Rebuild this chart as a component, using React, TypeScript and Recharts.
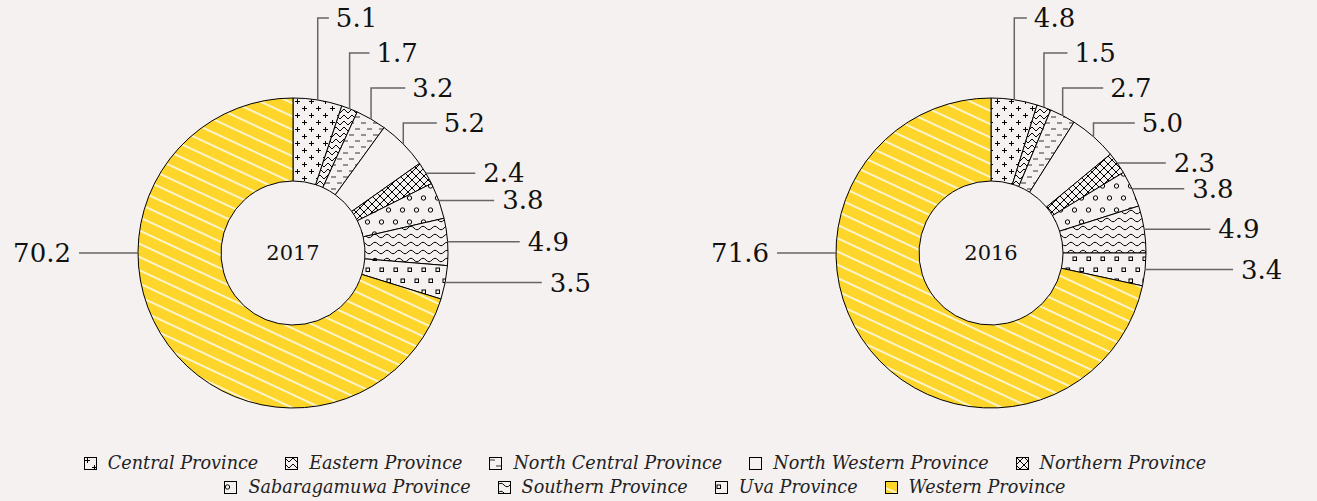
import React from "react";
import { PieChart, Pie, Cell, Legend } from "recharts";

const provinces = [
  "Central Province",
  "Eastern Province",
  "North Central Province",
  "North Western Province",
  "Northern Province",
  "Sabaragamuwa Province",
  "Southern Province",
  "Uva Province",
  "Western Province",
];
const years = ["2017", "2016"];
const share2017 = [5.1, 1.7, 3.2, 5.2, 2.4, 3.8, 4.9, 3.5, 70.2];
const share2016 = [4.8, 1.5, 2.7, 5.0, 2.3, 3.8, 4.9, 3.4, 71.6];

const BG = "#f5f1f0";
const YELLOW = "#fdd52b";
const patternIds = ["pPlus", "pChevron", "pDash", "pBlank", "pHatch", "pCircle", "pWave", "pSquare", "pStripe"];

const data2017 = provinces.map((name, i) => ({ name, value: share2017[i] }));
const data2016 = provinces.map((name, i) => ({ name, value: share2016[i] }));

const serif = "'DejaVu Serif', Georgia, serif";

// leader lines: upper slices get an elbow, the rest a straight line
const renderLabel = (props: any) => {
  const { cx, cy, midAngle, outerRadius, value, index } = props;
  const theta = 90 - midAngle;
  const rad = (theta * Math.PI) / 180;
  const ax = cx + outerRadius * Math.sin(rad);
  const ay = cy - outerRadius * Math.cos(rad);
  const txt = Number(value).toFixed(1);
  if (theta > 180) {
    const x0 = cx - outerRadius;
    return (
      <g key={`l-${index}`}>
        <line x1={x0} y1={cy} x2={x0 - 59} y2={cy} stroke="#666" strokeWidth={1.5} />
        <text x={x0 - 67} y={cy} textAnchor="end" dominantBaseline="central" fontFamily={serif} fontSize={26} fill="#111">
          {txt}
        </text>
      </g>
    );
  }
  const upper = theta < 50;
  const ly = upper ? cy - outerRadius - 80 + index * 35 : ay;
  const dy = ly - cy;
  const tx = cx - 462 + Math.sqrt(805 * 805 - (dy - 392) * (dy - 392));
  const d = upper ? `M${ax},${ay}V${ly}H${tx - 7}` : `M${ax},${ay}H${tx - 8}`;
  return (
    <g key={`l-${index}`}>
      <path d={d} fill="none" stroke="#666" strokeWidth={1.5} />
      <text x={tx} y={ly} textAnchor="start" dominantBaseline="central" fontFamily={serif} fontSize={26} fill="#111">
        {txt}
      </text>
    </g>
  );
};

const Patterns = () => (
  <defs>
    <pattern id="pPlus" width={14} height={14} patternUnits="userSpaceOnUse">
      <rect width={14} height={14} fill={BG} />
      <path d="M3.5 1V6M1 3.5H6M10.5 8V13M8 10.5H13" stroke="#000" strokeWidth={1} />
    </pattern>
    <pattern id="pChevron" width={8} height={6} patternUnits="userSpaceOnUse">
      <rect width={8} height={6} fill={BG} />
      <path d="M0 1L4 5L8 1" fill="none" stroke="#000" strokeWidth={1} />
    </pattern>
    <pattern id="pDash" width={12} height={12} patternUnits="userSpaceOnUse">
      <rect width={12} height={12} fill={BG} />
      <path d="M1 3H6M7 9H12" stroke="#333" strokeWidth={1.2} />
    </pattern>
    <pattern id="pBlank" width={10} height={10} patternUnits="userSpaceOnUse">
      <rect width={10} height={10} fill={BG} />
    </pattern>
    <pattern id="pHatch" width={8} height={8} patternUnits="userSpaceOnUse">
      <rect width={8} height={8} fill={BG} />
      <path d="M0 0L8 8M8 0L0 8" stroke="#000" strokeWidth={1} />
    </pattern>
    <pattern id="pCircle" width={14} height={24} patternUnits="userSpaceOnUse">
      <rect width={14} height={24} fill={BG} />
      <circle cx={3.5} cy={6} r={2.2} fill="none" stroke="#000" strokeWidth={1} />
      <circle cx={10.5} cy={18} r={2.2} fill="none" stroke="#000" strokeWidth={1} />
    </pattern>
    <pattern id="pWave" width={12} height={8} patternUnits="userSpaceOnUse">
      <rect width={12} height={8} fill={BG} />
      <path d="M0 4Q3 0.5 6 4T12 4" fill="none" stroke="#000" strokeWidth={1} />
    </pattern>
    <pattern id="pSquare" width={14} height={22} patternUnits="userSpaceOnUse">
      <rect width={14} height={22} fill={BG} />
      <rect x={2} y={4} width={3.5} height={3.5} fill="none" stroke="#000" strokeWidth={1} />
      <rect x={9} y={15} width={3.5} height={3.5} fill="none" stroke="#000" strokeWidth={1} />
    </pattern>
    <pattern id="pStripe" width={12} height={12} patternUnits="userSpaceOnUse" patternTransform="rotate(25)">
      <rect width={12} height={12} fill={YELLOW} />
      <path d="M0 6H12" stroke="#fff" strokeWidth={1.5} />
    </pattern>
  </defs>
);

const LegendContent = () => {
  const rows = [provinces.slice(0, 5), provinces.slice(5)];
  return (
    <div style={{ width: 1290, fontFamily: serif, fontStyle: "italic", fontSize: 17.6, color: "#222" }}>
      {rows.map((row, r) => (
        <div key={r} style={{ display: "flex", justifyContent: "center", gap: 27, height: 24, alignItems: "center" }}>
          {row.map((name) => {
            const i = provinces.indexOf(name);
            return (
              <div key={name} style={{ display: "flex", alignItems: "center", gap: 11 }}>
                <svg width={13} height={13}>
                  <rect x={0.5} y={0.5} width={12} height={12} fill={`url(#${patternIds[i]})`} stroke="#000" strokeWidth={1} />
                </svg>
                <span>{name}</span>
              </div>
            );
          })}
        </div>
      ))}
    </div>
  );
};

const pies = [
  { year: years[0], data: data2017, cx: 293 },
  { year: years[1], data: data2016, cx: 991 },
];

export default function App() {
  return (
    <div style={{ position: "absolute", left: 0, top: 0, width: 1317, height: 501, background: BG }}>
      <PieChart width={1317} height={501} margin={{ top: 0, right: 0, bottom: 0, left: 0 }}>
        <Patterns />
        {pies.map((p) => (
          <Pie
            key={p.year}
            data={p.data}
            dataKey="value"
            nameKey="name"
            cx={p.cx}
            cy={253}
            innerRadius={72}
            outerRadius={155}
            startAngle={90}
            endAngle={-270}
            stroke="#000"
            strokeWidth={1}
            label={renderLabel}
            labelLine={false}
            isAnimationActive={false}
          >
            {p.data.map((d, i) => (
              <Cell key={d.name} fill={`url(#${patternIds[i]})`} />
            ))}
          </Pie>
        ))}
        {pies.map((p) => (
          <text key={`c-${p.year}`} x={p.cx} y={253} textAnchor="middle" dominantBaseline="central" fontFamily={serif} fontSize={21} fill="#111">
            {p.year}
          </text>
        ))}
        <Legend content={<LegendContent />} wrapperStyle={{ left: 0, top: 451, width: 1290 }} />
      </PieChart>
    </div>
  );
}
